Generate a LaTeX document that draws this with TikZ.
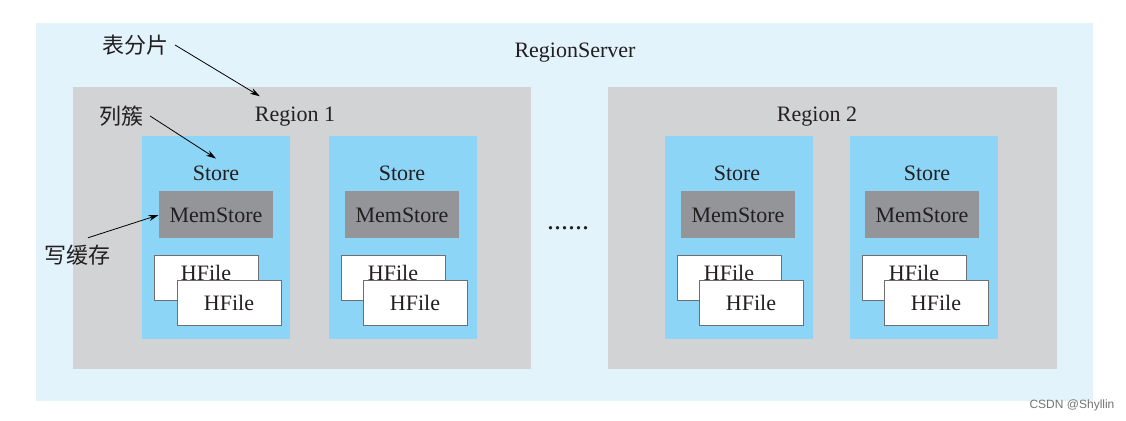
\documentclass[tikz,border=0pt]{standalone}
\usepackage{fontspec}
\setmainfont{Liberation Serif}
\newfontfamily\cjk{Noto Sans CJK SC}
\newfontfamily\wmfont{Liberation Sans}
\usetikzlibrary{arrows.meta}

\definecolor{serverblue}{RGB}{226,243,252}
\definecolor{regiongray}{RGB}{209,211,212}
\definecolor{storeblue}{RGB}{140,213,246}
\definecolor{memgray}{RGB}{147,149,152}
\definecolor{hfileline}{RGB}{110,111,113}
\definecolor{textdark}{RGB}{35,31,32}

\tikzset{
  server/.style={fill=serverblue, minimum width=528.5pt, minimum height=189pt, inner sep=0pt},
  region/.style={fill=regiongray, minimum width=229pt, minimum height=141pt, inner sep=0pt},
  store/.style={fill=storeblue, minimum width=74pt, minimum height=101.5pt, inner sep=0pt},
  memstore/.style={fill=memgray, text=textdark, minimum width=57pt, minimum height=23.5pt, inner sep=0pt},
  hfile/.style={fill=white, draw=hfileline, line width=0.4pt, text=textdark, minimum width=52pt, minimum height=22.5pt, inner sep=0pt},
  lbl/.style={text=textdark},
  note/.style={text=textdark, font=\cjk\fontsize{11}{13}\selectfont},
}

\begin{document}
\begin{tikzpicture}[x=0.5pt, y=-0.5pt, >={Stealth[length=5pt,width=3pt]}, font=\fontsize{11}{13}\selectfont]

    \useasboundingbox (0,0) rectangle (1126,421);

    % RegionServer
    \node[server] (server) at (564.5,212) {};
    \node[lbl] (serverlbl) at (575,53) {RegionServer};

    % Region 1
    \node[region] (reg1) at (302,228) {};
    \node[lbl] (reg1lbl) at (295,117) {Region 1};

    \node[store] (store1) at (216,237.5) {};
    \node[lbl] (store1lbl) at (216,173) {Store};
    \node[memstore] (mem1) at (216,215) {MemStore};
    \node[hfile] (hf1a) at (206,277.5) {\raisebox{4.5pt}{HFile}};
    \node[hfile] (hf1b) at (229,303) {HFile};

    \node[store] (store2) at (403,237.5) {};
    \node[lbl] (store2lbl) at (402,173) {Store};
    \node[memstore] (mem2) at (402,215) {MemStore};
    \node[hfile] (hf2a) at (393,277.5) {\raisebox{4.5pt}{HFile}};
    \node[hfile] (hf2b) at (415,303) {HFile};

    % Region 2
    \node[region, minimum width=224.5pt] (reg2) at (832.5,228) {};
    \node[lbl] (reg2lbl) at (817,117) {Region 2};

    \node[store] (store3) at (738.5,237.5) {};
    \node[lbl] (store3lbl) at (737,173) {Store};
    \node[memstore] (mem3) at (738,215) {MemStore};
    \node[hfile] (hf3a) at (729,277.5) {\raisebox{4.5pt}{HFile}};
    \node[hfile] (hf3b) at (751,303) {HFile};

    \node[store] (store4) at (924,237.5) {};
    \node[lbl] (store4lbl) at (927,173) {Store};
    \node[memstore] (mem4) at (922,215) {MemStore};
    \node[hfile] (hf4a) at (914,277.5) {\raisebox{4.5pt}{HFile}};
    \node[hfile] (hf4b) at (936,303) {HFile};

    \node[lbl, font=\fontsize{14}{16}\selectfont] (dots) at (568,228) {......};

    % notes
    \node[note] (fenpian) at (135,45) {表分片};
    \node[note] (liecu) at (121,116) {列簇};
    \node[note] (huancun) at (78,255) {写缓存};

    \draw[->] (fenpian.east) -- ([xshift=6pt,yshift=2pt]reg1lbl.north west);
    \draw[->] (liecu.east) -- (store1lbl.north);
    \draw[->] ([xshift=5pt]huancun.north) -- (mem1.west);

    % watermark
    \node[text=black!55, font=\wmfont\fontsize{6}{7}\selectfont] (mark) at (1072,405) {CSDN @Shyllin};

\end{tikzpicture}
\end{document}
